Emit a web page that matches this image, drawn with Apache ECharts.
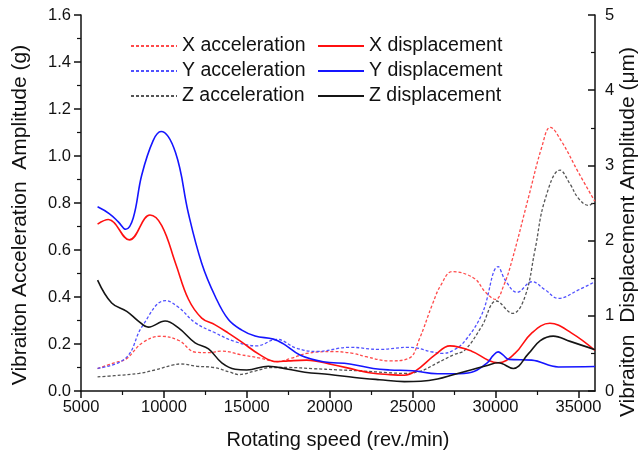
<!DOCTYPE html>
<html>
<head>
<meta charset="utf-8">
<script src="https://cdn.jsdelivr.net/npm/echarts@6/dist/echarts.min.js"></script>
<style>
  html, body { margin: 0; padding: 0; background: #fff; }
  #chart { width: 639px; height: 457px; }
</style>
</head>
<body>
<div id="chart"></div>
<script>
// speeds (rev./min) and acceleration amplitudes (g)
const xAccSpeed = [6000, 7000, 7700, 8700, 9800, 10900, 11900, 12700, 13500, 14600, 15800, 16800, 17700, 18600, 20200, 21400, 22200, 23600, 24800, 25400, 26200, 26700, 27400, 28700, 29400, 30000, 30500, 31000, 32000, 32800, 33300, 34000, 35000, 36000];
const xAcc = [0.095, 0.12, 0.135, 0.205, 0.233, 0.215, 0.165, 0.163, 0.17, 0.155, 0.14, 0.125, 0.14, 0.16, 0.168, 0.16, 0.146, 0.128, 0.14, 0.22, 0.37, 0.45, 0.508, 0.48, 0.42, 0.39, 0.45, 0.557, 0.827, 1.04, 1.122, 1.06, 0.93, 0.806];

const yAccSpeed = [6000, 7700, 8700, 10100, 10900, 11900, 13100, 14300, 15600, 16800, 18000, 19200, 21200, 23000, 24800, 26200, 26800, 27500, 28200, 29200, 30160, 30600, 31300, 32200, 33000, 33800, 35000, 36000];
const yAcc = [0.096, 0.14, 0.276, 0.385, 0.355, 0.29, 0.247, 0.21, 0.192, 0.22, 0.182, 0.168, 0.186, 0.177, 0.186, 0.166, 0.16, 0.175, 0.217, 0.33, 0.529, 0.47, 0.42, 0.465, 0.43, 0.394, 0.43, 0.465];

const zAccSpeed = [6000, 7000, 8500, 9500, 10500, 11000, 12000, 13000, 14000, 14500, 15500, 16500, 17500, 19000, 20500, 22000, 23500, 24500, 25500, 26500, 27500, 28150, 29160, 30060, 31030, 31770, 32380, 32980, 33890, 34500, 35000, 35600, 36000];
const zAcc = [0.06, 0.065, 0.075, 0.09, 0.11, 0.115, 0.105, 0.1, 0.08, 0.07, 0.085, 0.1, 0.1, 0.095, 0.09, 0.085, 0.078, 0.075, 0.085, 0.12, 0.155, 0.174, 0.274, 0.383, 0.33, 0.4, 0.6, 0.813, 0.94, 0.88, 0.82, 0.79, 0.806];

// displacement amplitudes (um)
const xDispSpeed = [6000, 6650, 7920, 9160, 9870, 10700, 11480, 12280, 13090, 13890, 14700, 15800, 16800, 17500, 18600, 20200, 21600, 22500, 23500, 24500, 25200, 26350, 27250, 28560, 29560, 30160, 31170, 32180, 33280, 34590, 36000];
const xDisp = [2.22, 2.28, 2.01, 2.34, 2.2, 1.7, 1.22, 0.97, 0.88, 0.77, 0.65, 0.48, 0.39, 0.4, 0.41, 0.35, 0.28, 0.24, 0.22, 0.21, 0.27, 0.48, 0.6, 0.53, 0.41, 0.375, 0.5, 0.77, 0.9, 0.77, 0.54];

const yDispSpeed = [6000, 6700, 7250, 7700, 8150, 8660, 9350, 9830, 10700, 11480, 12280, 13090, 13890, 14700, 15500, 16600, 17190, 18200, 19600, 21210, 22620, 23620, 25000, 26500, 27500, 28560, 29500, 29850, 30160, 30450, 30800, 32180, 33790, 36000];
const yDisp = [2.45, 2.36, 2.25, 2.15, 2.3, 2.87, 3.33, 3.45, 3.17, 2.36, 1.7, 1.26, 0.95, 0.81, 0.73, 0.69, 0.63, 0.48, 0.39, 0.36, 0.3, 0.28, 0.27, 0.23, 0.23, 0.25, 0.375, 0.47, 0.52, 0.48, 0.42, 0.41, 0.32, 0.325];

const zDispSpeed = [6000, 6850, 7760, 8460, 9060, 10070, 10880, 11880, 12690, 13490, 14300, 15000, 16300, 17500, 18500, 20000, 21500, 23000, 24500, 25500, 26500, 27500, 28500, 29500, 30160, 31070, 32000, 32700, 33480, 34500, 36000];
const zDisp = [1.475, 1.17, 1.06, 0.93, 0.85, 0.93, 0.84, 0.64, 0.56, 0.375, 0.29, 0.28, 0.33, 0.29, 0.25, 0.22, 0.18, 0.15, 0.125, 0.13, 0.16, 0.22, 0.28, 0.34, 0.375, 0.3, 0.5, 0.67, 0.73, 0.66, 0.55];

// axis ticks
const speedTicks = [5000, 10000, 15000, 20000, 25000, 30000, 35000];
const speedMinorTicks = [7500, 12500, 17500, 22500, 27500, 32500];

const font = "'Liberation Sans', Arial, sans-serif";
const ink = "#111";

function pairs(xs, ys) {
  return xs.map((x, i) => [x, ys[i]]);
}

function line(name, xs, ys, color, dashed, axis) {
  return {
    name: name,
    type: "line",
    yAxisIndex: axis,
    data: pairs(xs, ys),
    smooth: 0.4,
    symbol: "none",
    silent: true,
    lineStyle: {
      color: color,
      width: dashed ? 1.3 : 1.6,
      type: dashed ? [3, 2] : "solid"
    },
    itemStyle: { color: color }
  };
}

function legendCol(names, left) {
  return {
    data: names,
    orient: "vertical",
    left: left,
    top: 31,
    itemWidth: 46,
    itemHeight: 14,
    itemGap: 5,
    itemStyle: { opacity: 0, borderWidth: 0 },
    textStyle: { fontSize: 19.5, color: ink, fontFamily: font }
  };
}

const chart = echarts.init(document.getElementById("chart"));
chart.setOption({
  animation: false,
  textStyle: { fontFamily: font },
  grid: { left: 81, right: 44, top: 15, bottom: 66 },
  legend: [
    legendCol(["X acceleration", "Y acceleration", "Z acceleration"], 125),
    legendCol(["X displacement", "Y displacement", "Z displacement"], 312)
  ],
  graphic: [
    {
      type: "text",
      x: 20,
      y: 215,
      rotation: Math.PI / 2,
      style: {
        text: "Vibraiton Acceleration  Amplitude (g)",
        font: "21px " + font,
        fill: ink,
        align: "center",
        verticalAlign: "middle"
      }
    },
    {
      type: "text",
      x: 628,
      y: 232,
      rotation: Math.PI / 2,
      style: {
        text: "Vibraiton  Displacement Amplitude (\u03bcm)",
        font: "21px " + font,
        fill: ink,
        align: "center",
        verticalAlign: "middle"
      }
    },
    {
      type: "text",
      x: 338,
      y: 440,
      style: {
        text: "Rotating speed (rev./min)",
        font: "20px " + font,
        fill: ink,
        align: "center",
        verticalAlign: "middle"
      }
    }
  ],
  xAxis: [
    {
      type: "value",
      min: 5000,
      max: 36000,
      axisLine: { lineStyle: { color: ink, width: 1.5 } },
      axisTick: { customValues: speedTicks, length: 7, lineStyle: { color: ink, width: 1.5 } },
      axisLabel: {
        customValues: speedTicks,
        fontSize: 16.5,
        color: ink,
        margin: 8,
        fontFamily: font,
        formatter: (v) => String(v)
      },
      splitLine: { show: false }
    },
    {
      type: "value",
      min: 5000,
      max: 36000,
      position: "bottom",
      axisLine: { show: false },
      axisTick: { customValues: speedMinorTicks, length: 4, lineStyle: { color: ink, width: 1.2 } },
      axisLabel: { show: false },
      splitLine: { show: false }
    }
  ],
  yAxis: [
    {
      type: "value",
      min: 0,
      max: 1.6,
      interval: 0.2,
      position: "left",
      axisLine: { show: true, lineStyle: { color: ink, width: 1.5 } },
      axisTick: { show: true, length: 7, lineStyle: { color: ink, width: 1.5 } },
      minorTick: { show: true, splitNumber: 2, length: 4, lineStyle: { color: ink, width: 1.2 } },
      axisLabel: {
        fontSize: 16.5,
        color: ink,
        margin: 10,
        fontFamily: font,
        formatter: (v) => v.toFixed(1)
      },
      splitLine: { show: false }
    },
    {
      type: "value",
      min: 0,
      max: 5,
      interval: 1,
      position: "right",
      axisLine: { show: true, lineStyle: { color: ink, width: 1.5 } },
      axisTick: { show: true, inside: true, length: 7, lineStyle: { color: ink, width: 1.5 } },
      minorTick: { show: true, splitNumber: 2, length: 4, lineStyle: { color: ink, width: 1.2 } },
      axisLabel: { fontSize: 16.5, color: ink, margin: 10, fontFamily: font },
      splitLine: { show: false }
    }
  ],
  series: [
    line("X acceleration", xAccSpeed, xAcc, "#ff4a4a", true, 0),
    line("Y acceleration", yAccSpeed, yAcc, "#5050ff", true, 0),
    line("Z acceleration", zAccSpeed, zAcc, "#555555", true, 0),
    line("X displacement", xDispSpeed, xDisp, "#ff1010", false, 1),
    line("Y displacement", yDispSpeed, yDisp, "#1515ff", false, 1),
    line("Z displacement", zDispSpeed, zDisp, "#151515", false, 1)
  ]
});
</script>
</body>
</html>
